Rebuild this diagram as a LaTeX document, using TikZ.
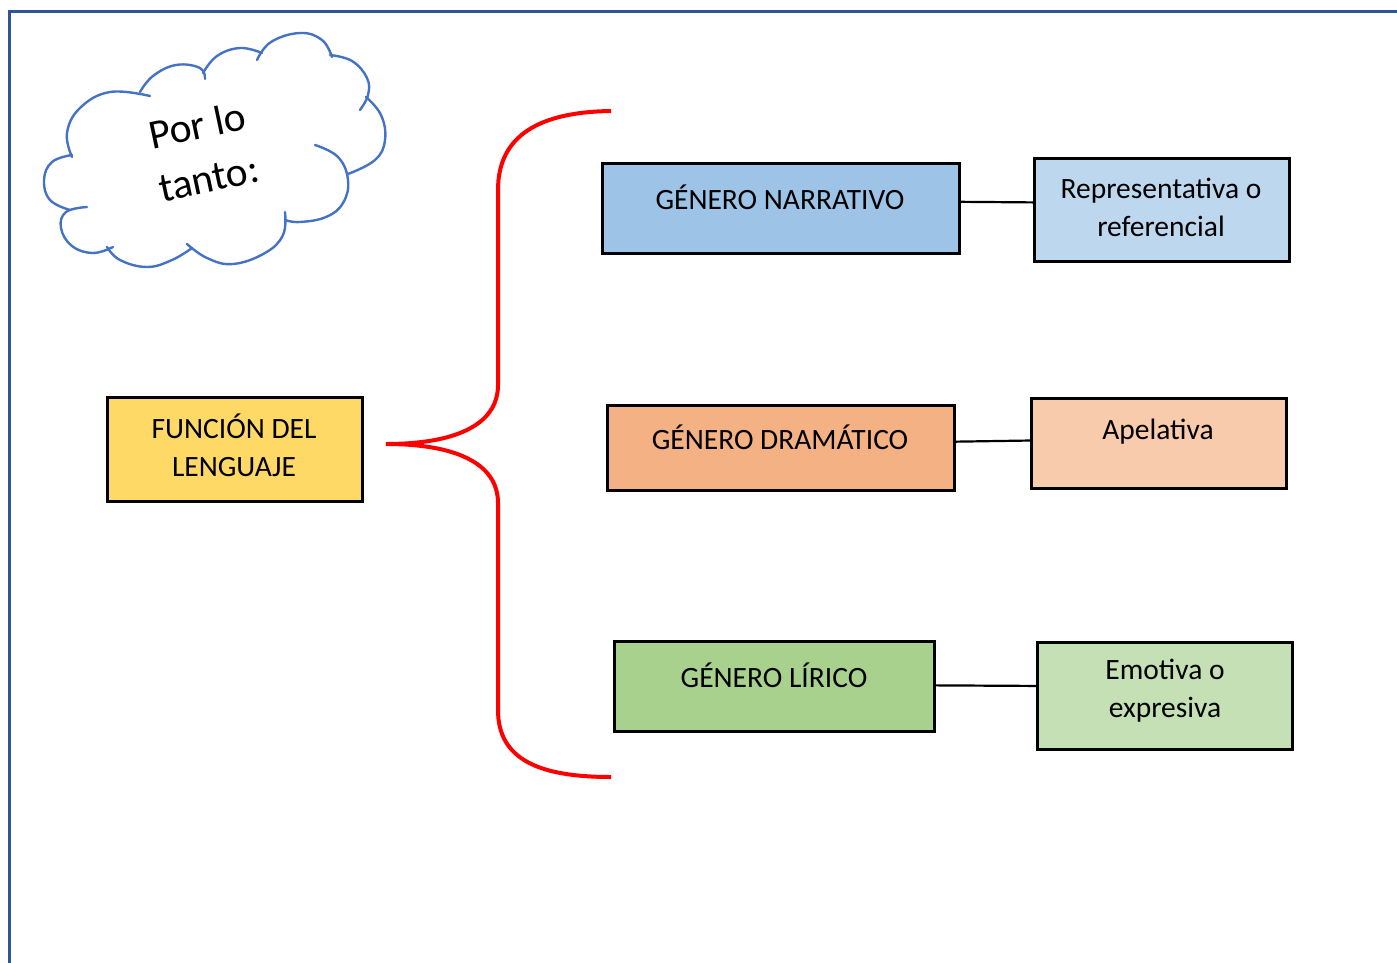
\documentclass[tikz,border=0pt]{standalone}
\usepackage{fontspec}
\setmainfont{Carlito}
\usetikzlibrary{calc}
\definecolor{framecol}{HTML}{2F5597}
\definecolor{cloudcol}{HTML}{4472C4}
\definecolor{yel}{HTML}{FFD966}
\definecolor{blueA}{HTML}{9DC3E6}
\definecolor{blueB}{HTML}{BDD7EE}
\definecolor{orA}{HTML}{F4B183}
\definecolor{orB}{HTML}{F8CBAD}
\definecolor{grA}{HTML}{A9D18E}
\definecolor{grB}{HTML}{C5E0B4}
\begin{document}
\begin{tikzpicture}[x=1pt,y=-1pt,
  box/.style={draw=black, line width=2.6pt, rectangle, anchor=north west, inner sep=0pt},
  txt/.style={font=\fontsize{29.5}{38}\selectfont, align=center, inner sep=0pt},
  ctxt/.style={font=\fontsize{41.5}{50}\selectfont, rotate=12, inner sep=0pt},
  link/.style={draw=black, line width=2.2pt},
  lobe/.style={draw=cloudcol, line width=2.4pt, line cap=round}]
\useasboundingbox (0,0) rectangle (1397,963);
% frame
\draw[framecol, line width=3pt] (1397,12) -- (9,12) -- (9,963);
% cloud
\draw[lobe] plot[smooth, tension=0.7] coordinates {(72,157) (67,133) (80,108) (110,92) (150,96)};
\draw[lobe] plot[smooth, tension=0.7] coordinates {(140,92) (153,76) (176,65) (200,68) (205,79)};
\draw[lobe] plot[smooth, tension=0.7] coordinates {(203,73) (217,56) (240,48) (262,53)};
\draw[lobe] plot[smooth, tension=0.7] coordinates {(257,60) (271,42) (300,33) (322,40) (332,57)};
\draw[lobe] plot[smooth, tension=0.7] coordinates {(330,55) (352,61) (367,78) (368,95) (360,110)};
\draw[lobe] plot[smooth, tension=0.7] coordinates {(366,97) (381,115) (385,140) (375,160) (348,174)};
\draw[lobe] plot[smooth, tension=0.7] coordinates {(315,145) (338,157) (348,180) (343,203) (326,217) (300,222) (285,220)};
\draw[lobe] plot[smooth, tension=0.7] coordinates {(285,212) (283,235) (265,253) (233,264) (207,258) (187,244)};
\draw[lobe] plot[smooth, tension=0.7] coordinates {(192,248) (172,260) (147,267) (120,260) (107,247)};
\draw[lobe] plot[smooth, tension=0.7] coordinates {(113,247) (93,253) (72,246) (61,228) (66,212) (87,207)};
\draw[lobe] plot[smooth, tension=0.7] coordinates {(70,210) (50,200) (44,180) (52,162) (72,155)};
\node[ctxt] (cloudtxtA) at (197,125) {Por lo};
\node[ctxt] (cloudtxtB) at (209,179) {tanto:};
% main box
\node[box, fill=yel, minimum width=255, minimum height=104] (fun) at (106,396) {};
\node[txt] (funt) at (234,445) {FUNCIÓN DEL\\LENGUAJE};
% brace
\coordinate (btop) at (611,111);
\coordinate (bmid) at (386,444);
\coordinate (bbot) at (611,777);
\draw[red, line width=4pt] (btop) .. controls (540,112) and (498,135) .. (498,190) -- (498,385)
  .. controls (498,425) and (455,444) .. (bmid)
  .. controls (455,444) and (498,463) .. (498,503) -- (498,710)
  .. controls (498,760) and (540,777) .. (bbot);
% genre boxes
\node[box, fill=blueA, minimum width=357, minimum height=90] (nar) at (601,162) {};
\node[txt] (nart) at (780,197) {GÉNERO NARRATIVO};
\node[box, fill=blueB, minimum width=255, minimum height=103] (rep) at (1033,157) {};
\node[txt] (rept) at (1161,207) {Representativa o\\referencial};
\node[box, fill=orA, minimum width=347, minimum height=85] (dra) at (606,404) {};
\node[txt] (drat) at (780,437) {GÉNERO DRAMÁTICO};
\node[box, fill=orB, minimum width=255, minimum height=90] (ape) at (1030,397) {};
\node[txt] (apet) at (1158,432) {Apelativa};
\node[box, fill=grA, minimum width=320, minimum height=90] (lir) at (613,640) {};
\node[txt] (lirt) at (774,675) {GÉNERO LÍRICO};
\node[box, fill=grB, minimum width=255, minimum height=107] (emo) at (1036,641) {};
\node[txt] (emot) at (1165,691) {Emotiva o\\expresiva};
% links
\draw[link] ($(nar.north east)!0.43!(nar.south east)$) -- ($(rep.north west)!0.43!(rep.south west)$);
\draw[link] ($(dra.north east)!0.43!(dra.south east)$) -- ($(ape.north west)!0.47!(ape.south west)$);
\draw[link] ($(lir.north east)!0.49!(lir.south east)$) -- ($(emo.north west)!0.41!(emo.south west)$);
\end{tikzpicture}
\end{document}
